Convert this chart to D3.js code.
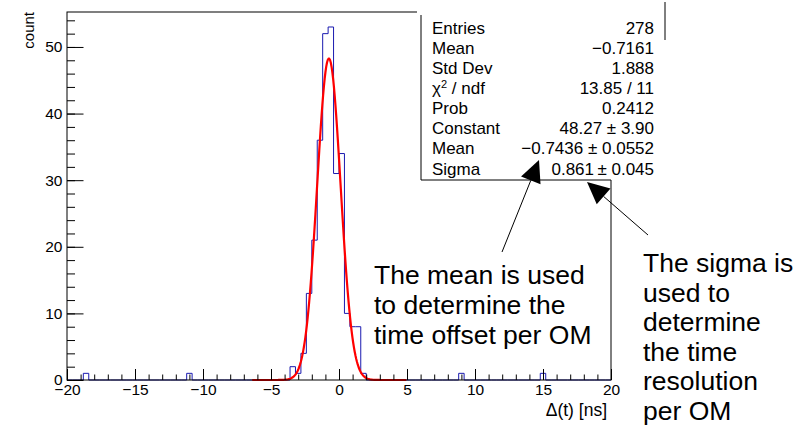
<!DOCTYPE html>
<html>
<head>
<meta charset="utf-8">
<script src="https://cdn.jsdelivr.net/npm/d3@7"></script>
<style>
body { margin: 0; background: #ffffff; }
svg { display: block; font-family: "Liberation Sans", Arial, sans-serif; }
</style>
</head>
<body>
<script>
// time difference histogram, 100 bins of 0.4 ns between -20 and 20 (only non-empty bins listed)
var binWidth = 0.4;
var binLow = [-18.8, -11.2, -3.6, -3.2, -2.8, -2.4, -2.0, -1.6, -1.2, -0.8, -0.4, 0.0, 0.4, 0.8, 1.2, 1.6, 8.8, 14.8];
var binCount = [1, 1, 2, 1, 4, 13, 21, 36, 52, 53, 31, 34, 10, 8, 8, 1, 1, 1];

// gaussian fit as given in the stats box
var fitConstant = 48.27;
var fitMean = -0.7436;
var fitSigma = 0.861;
var fitRange = [-6.38, 4.95];

var xTicks = [-20, -15, -10, -5, 0, 5, 10, 15, 20];
var yTicks = [0, 10, 20, 30, 40, 50];

var statLabels = ["Entries", "Mean", "Std Dev", "chi2", "Prob", "Constant", "Mean", "Sigma"];
var statValues = ["278", "\u22120.7161", "1.888", "13.85 / 11", "0.2412", "48.27 \u00b1 3.90", "\u22120.7436 \u00b1 0.0552", "0.861\u2009\u00b1 0.045"];

var meanNote = ["The mean is used", "to determine the", "time offset per OM"];
var sigmaNote = ["The sigma is", "used to", "determine", "the time", "resolution", "per OM"];

const width = 804;
const height = 428;
var frameL = 67, frameR = 611, frameT = 12, frameB = 380;

var svg = d3.select("body").append("svg")
    .attr("width", width)
    .attr("height", height)
    .style("background-color", "#ffffff");

var x = d3.scaleLinear().domain([-20, 20]).range([frameL, frameR]);
var y = d3.scaleLinear().domain([0, 55.25]).range([frameB, frameT]);

// fill all bins, empty ones stay 0
var nBins = Math.round(40 / binWidth);
var counts = new Array(nBins).fill(0);
for (var i = 0; i < binLow.length; i++) {
    counts[Math.round((binLow[i] + 20) / binWidth)] = binCount[i];
}
var steps = [[-20, 0]];
for (var i = 0; i < nBins; i++) {
    steps.push([-20 + i * binWidth, counts[i]]);
}
steps.push([20, counts[nBins - 1]]);
steps.push([20, 0]);

svg.append("path")
    .attr("d", d3.line().x(d => x(d[0])).y(d => y(d[1])).curve(d3.curveStepAfter)(steps))
    .attr("fill", "none")
    .attr("stroke", "#1a1ab0")
    .attr("stroke-width", 1);

// fit curve
var fx = d3.range(0, 201).map(k => fitRange[0] + (fitRange[1] - fitRange[0]) * k / 200);
var fitPts = fx.map(v => [v, fitConstant * Math.exp(-0.5 * Math.pow((v - fitMean) / fitSigma, 2))]);
svg.append("path")
    .attr("d", d3.line().x(d => x(d[0])).y(d => y(d[1]))(fitPts))
    .attr("fill", "none")
    .attr("stroke", "#ff0000")
    .attr("stroke-width", 2.2)
    .attr("stroke-linejoin", "round");

// axes, ticks pointing inside like ROOT
var xMinor = d3.range(-20, 21, 1);
var yMinor = d3.range(0, 55, 2);

var xAxisG = svg.append("g").attr("transform", "translate(0," + frameB + ")");
xAxisG.append("g").call(d3.axisBottom(x).tickValues(xMinor).tickSize(-5.5).tickFormat(""));
xAxisG.append("g").call(d3.axisBottom(x).tickValues(xTicks).tickSize(-11).tickPadding(4));
xAxisG.selectAll(".domain").remove();

var yAxisG = svg.append("g").attr("transform", "translate(" + frameL + ",0)");
yAxisG.append("g").call(d3.axisLeft(y).tickValues(yMinor).tickSize(-8).tickFormat(""));
yAxisG.append("g").call(d3.axisLeft(y).tickValues(yTicks).tickSize(-16.5).tickPadding(4.5));
yAxisG.selectAll(".domain").remove();

svg.selectAll(".tick line").attr("stroke", "#000").attr("stroke-width", 1);
svg.selectAll(".tick text")
    .attr("fill", "#000")
    .style("font-size", "15.5px")
    .style("font-family", "'Liberation Sans', Arial, sans-serif");

// frame
svg.append("rect")
    .attr("x", frameL).attr("y", frameT)
    .attr("width", frameR - frameL).attr("height", frameB - frameT)
    .attr("fill", "none")
    .attr("stroke", "#000")
    .attr("stroke-width", 1);

// axis titles
svg.append("text")
    .attr("transform", "translate(33.5," + frameT + ") rotate(-90)")
    .attr("text-anchor", "end")
    .style("font-size", "15px")
    .text("count");

svg.append("text")
    .attr("x", 607)
    .attr("y", 416)
    .attr("text-anchor", "end")
    .style("font-size", "17.5px")
    .text("\u0394(t) [ns]");

// stats box
var boxL = 421, boxR = 665, boxB = 180;
svg.append("rect")
    .attr("x", 417).attr("y", 0)
    .attr("width", boxR - 417 + 1).attr("height", boxB)
    .attr("fill", "#ffffff");
svg.append("line").attr("x1", boxL).attr("y1", 15).attr("x2", boxL).attr("y2", boxB)
    .attr("stroke", "#000");
svg.append("line").attr("x1", boxL).attr("y1", boxB).attr("x2", frameR).attr("y2", boxB)
    .attr("stroke", "#000");
svg.append("line").attr("x1", boxR).attr("y1", 2).attr("x2", boxR).attr("y2", 40)
    .attr("stroke", "#000");

var rowY = d3.scaleLinear().domain([0, 7]).range([33.5, 174.5]);

svg.selectAll(".statlabel")
    .data(statLabels)
    .enter().append("text")
    .attr("class", "statlabel")
    .attr("x", 432)
    .attr("y", (d, i) => rowY(i))
    .style("font-size", "17px")
    .each(function (d) {
        var t = d3.select(this);
        if (d === "chi2") {
            t.append("tspan").text("\u03c7");
            t.append("tspan").attr("dy", -6).style("font-size", "11px").text("2");
            t.append("tspan").attr("dy", 6).text(" / ndf");
        } else {
            t.text(d);
        }
    });

svg.selectAll(".statvalue")
    .data(statValues)
    .enter().append("text")
    .attr("class", "statvalue")
    .attr("x", 654)
    .attr("y", (d, i) => rowY(i))
    .attr("text-anchor", "end")
    .style("font-size", "17px")
    .text(d => d);

// arrows pointing at the fitted mean and sigma
var arrows = [
    { from: [502, 252], tip: [539, 160] },
    { from: [648, 235], tip: [587, 182] }
];
arrows.forEach(a => {
    var dx = a.tip[0] - a.from[0], dy = a.tip[1] - a.from[1];
    var len = Math.sqrt(dx * dx + dy * dy);
    var ux = dx / len, uy = dy / len;
    var hl = 22, hw = 10.5;
    var bx = a.tip[0] - ux * hl, by = a.tip[1] - uy * hl;
    svg.append("line")
        .attr("x1", a.from[0]).attr("y1", a.from[1])
        .attr("x2", bx).attr("y2", by)
        .attr("stroke", "#000").attr("stroke-width", 1);
    svg.append("polygon")
        .attr("points", [
            [a.tip[0], a.tip[1]],
            [bx - uy * hw, by + ux * hw],
            [bx + uy * hw, by - ux * hw]
        ].map(p => p.join(",")).join(" "))
        .attr("fill", "#000");
});

// notes
svg.selectAll(".meannote")
    .data(meanNote)
    .enter().append("text")
    .attr("x", 374)
    .attr("y", (d, i) => 284 + i * 29.8)
    .style("font-size", "26.5px")
    .text(d => d);

svg.selectAll(".sigmanote")
    .data(sigmaNote)
    .enter().append("text")
    .attr("x", 643)
    .attr("y", (d, i) => 272 + i * 29.5)
    .style("font-size", "26.5px")
    .text(d => d);
</script>
</body>
</html>
